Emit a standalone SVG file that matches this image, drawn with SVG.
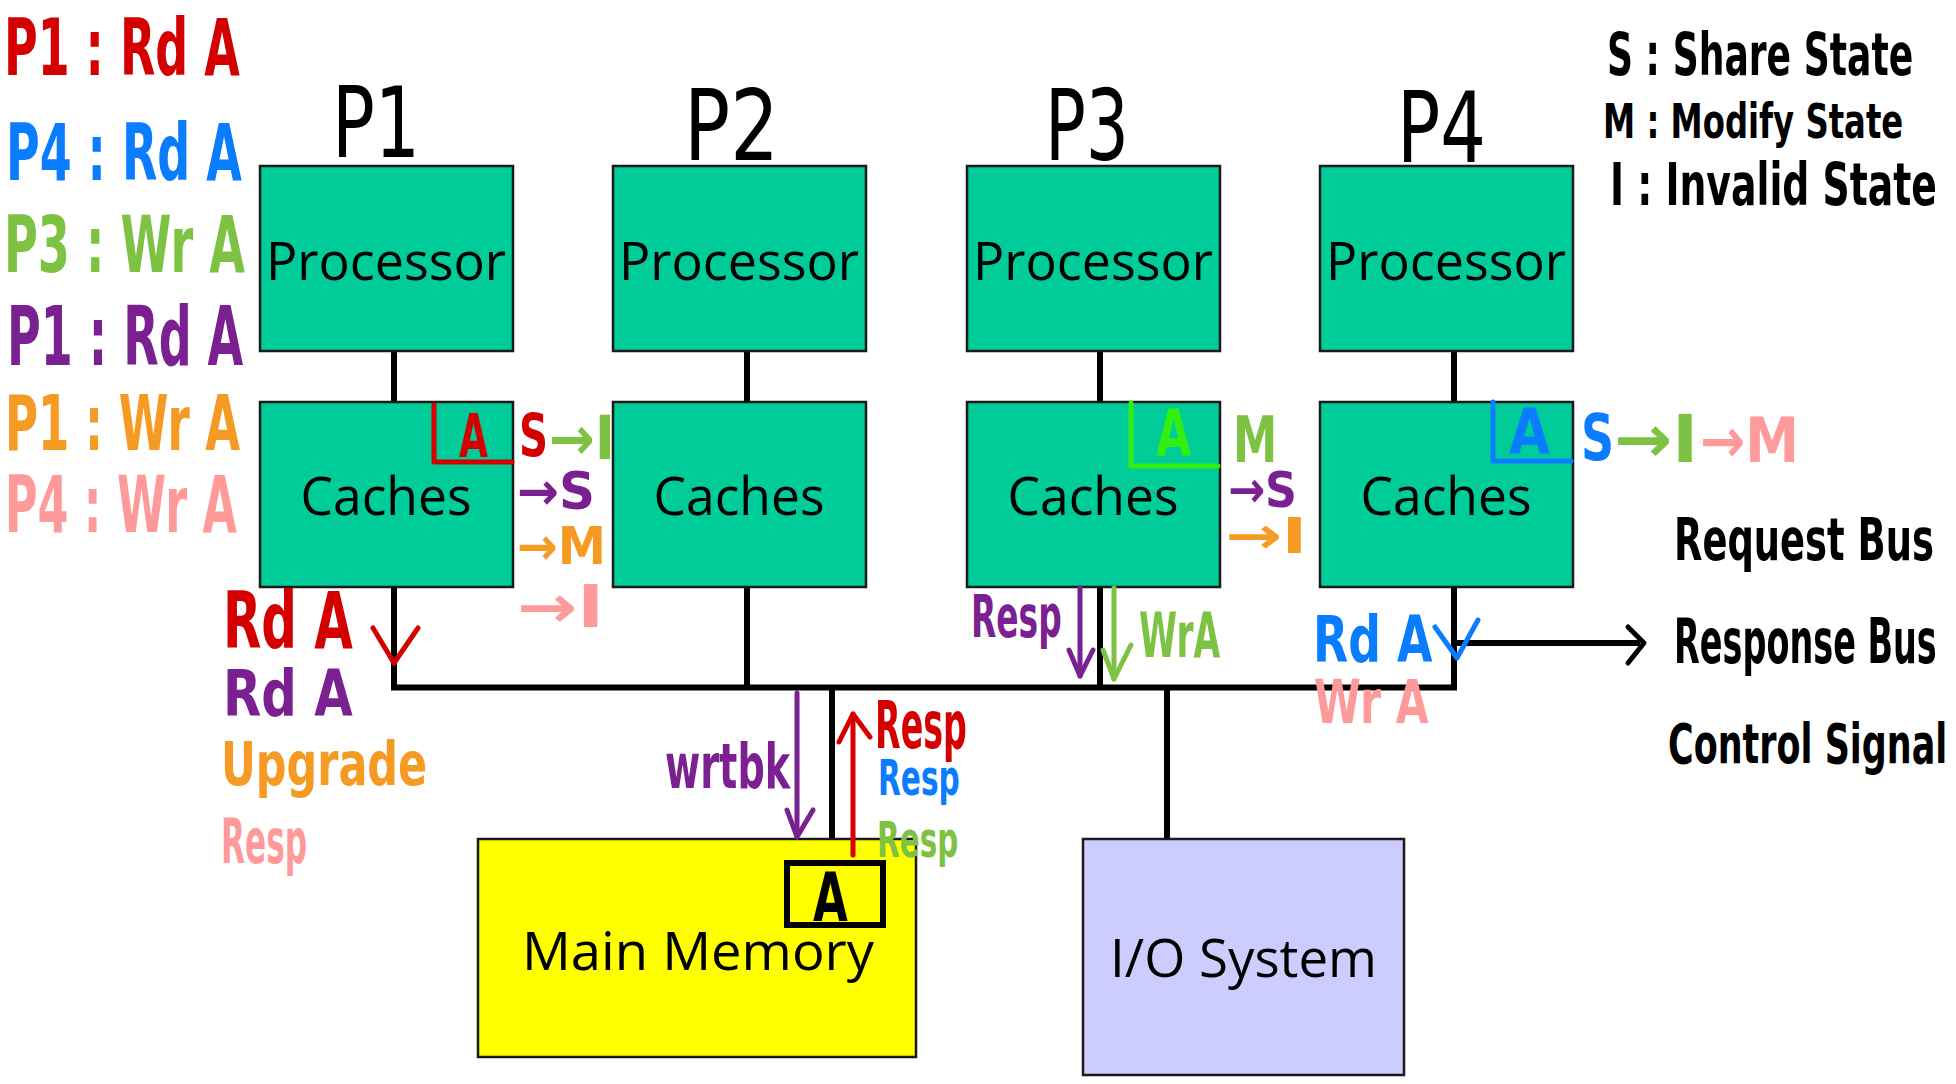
<svg xmlns="http://www.w3.org/2000/svg" width="1956" height="1084" viewBox="0 0 1956 1084">
<style>
.box{stroke:#1a1a1a;stroke-width:2.5}
.proc{fill:#00cc99}
.mem{fill:#ffff00}
.io{fill:#ccccff}
.lbl{font-family:"Open Sans","Liberation Sans",sans-serif;fill:#000;text-anchor:middle;font-size:53px}
.hw{font-family:"DejaVu Sans Condensed","DejaVu Sans",sans-serif;font-weight:bold}
.pl{font-family:"DejaVu Sans Condensed","DejaVu Sans",sans-serif;font-weight:normal;fill:#000}
.bus{stroke:#000;fill:none;stroke-width:6}
.pen{fill:none;stroke-width:5;stroke-linecap:round;stroke-linejoin:round}
.red{fill:#d40000}.blue{fill:#0a7cff}.green{fill:#7dc242}.purple{fill:#7b2090}.orange{fill:#f59a23}.pink{fill:#ff9a9a}.blk{fill:#000}.lime{fill:#33ee11}
.sred{stroke:#d40000}.sblue{stroke:#0a7cff}.sgreen{stroke:#7dc242}.spurple{stroke:#7b2090}.slime{stroke:#33ee11}.sblk{stroke:#000}
</style>

<!-- connectors -->
<g id="connectors">
  <line class="bus" x1="394" y1="350" x2="394" y2="402" stroke-width="5"/>
  <line class="bus" x1="747" y1="350" x2="747" y2="402" stroke-width="5"/>
  <line class="bus" x1="1100" y1="350" x2="1100" y2="402" stroke-width="5"/>
  <line class="bus" x1="1454" y1="350" x2="1454" y2="402" stroke-width="5"/>
  <line class="bus" x1="394" y1="586" x2="394" y2="690"/>
  <line class="bus" x1="747" y1="586" x2="747" y2="690"/>
  <line class="bus" x1="1100" y1="586" x2="1100" y2="690"/>
  <line class="bus" x1="1454" y1="586" x2="1454" y2="690"/>
  <line class="bus" x1="391" y1="687.5" x2="1457" y2="687.5" stroke-width="8"/>
  <line class="bus" x1="832" y1="687" x2="832" y2="840"/>
  <line class="bus" x1="1167" y1="687" x2="1167" y2="840"/>
  <line class="bus" x1="1457" y1="643" x2="1640" y2="643" stroke-width="4.5"/>
  <polyline class="pen sblk" points="1628,627 1644,643 1628,663"/>
</g>

<!-- processors -->
<g id="proc1"><rect class="box proc" x="260" y="166" width="253" height="185"/><text class="lbl" x="386" y="280" textLength="240" lengthAdjust="spacingAndGlyphs">Processor</text></g>
<g id="proc2"><rect class="box proc" x="613" y="166" width="253" height="185"/><text class="lbl" x="739" y="280" textLength="240" lengthAdjust="spacingAndGlyphs">Processor</text></g>
<g id="proc3"><rect class="box proc" x="967" y="166" width="253" height="185"/><text class="lbl" x="1093" y="280" textLength="240" lengthAdjust="spacingAndGlyphs">Processor</text></g>
<g id="proc4"><rect class="box proc" x="1320" y="166" width="253" height="185"/><text class="lbl" x="1446" y="280" textLength="240" lengthAdjust="spacingAndGlyphs">Processor</text></g>

<!-- caches -->
<g id="cache1"><rect class="box proc" x="260" y="402" width="253" height="185"/><text class="lbl" x="386" y="515" textLength="171" lengthAdjust="spacingAndGlyphs">Caches</text></g>
<g id="cache2"><rect class="box proc" x="613" y="402" width="253" height="185"/><text class="lbl" x="739" y="515" textLength="171" lengthAdjust="spacingAndGlyphs">Caches</text></g>
<g id="cache3"><rect class="box proc" x="967" y="402" width="253" height="185"/><text class="lbl" x="1093" y="515" textLength="171" lengthAdjust="spacingAndGlyphs">Caches</text></g>
<g id="cache4"><rect class="box proc" x="1320" y="402" width="253" height="185"/><text class="lbl" x="1446" y="515" textLength="171" lengthAdjust="spacingAndGlyphs">Caches</text></g>

<!-- memory -->
<g id="memory">
  <rect class="box mem" x="478" y="839" width="438" height="218"/>
  <text class="lbl" x="698" y="970" textLength="352" lengthAdjust="spacingAndGlyphs">Main Memory</text>
  <rect x="787" y="863" width="96" height="62" fill="none" stroke="#000" stroke-width="6"/>
  <text class="hw blk" transform="translate(813,921) scale(0.71,1)" font-size="68" textLength="49" lengthAdjust="spacingAndGlyphs">A</text>
</g>

<!-- io -->
<g id="io">
  <rect class="box io" x="1083" y="839" width="321" height="236"/>
  <text class="lbl" x="1243.5" y="977" font-size="56" textLength="267" lengthAdjust="spacingAndGlyphs">I/O System</text>
</g>

<!-- processor labels -->
<g id="plabels">
  <text class="pl" transform="translate(332,157) scale(0.8,1)" font-size="98" textLength="110" lengthAdjust="spacingAndGlyphs">P1</text>
  <text class="pl" transform="translate(684,160) scale(0.87,1)" font-size="98" textLength="109" lengthAdjust="spacingAndGlyphs">P2</text>
  <text class="pl" transform="translate(1045,160) scale(0.77,1)" font-size="98" textLength="109" lengthAdjust="spacingAndGlyphs">P3</text>
  <text class="pl" transform="translate(1397,162) scale(0.82,1)" font-size="98" textLength="108.5" lengthAdjust="spacingAndGlyphs">P4</text>
</g>

<!-- left legend -->
<g id="sequence">
  <text class="hw red" transform="translate(4,75) scale(0.655,1)" font-size="78" textLength="360" lengthAdjust="spacingAndGlyphs">P1 : Rd A</text>
  <text class="hw blue" transform="translate(6,180) scale(0.655,1)" font-size="78" textLength="360" lengthAdjust="spacingAndGlyphs">P4 : Rd A</text>
  <text class="hw green" transform="translate(4,272) scale(0.655,1)" font-size="78" textLength="368" lengthAdjust="spacingAndGlyphs">P3 : Wr A</text>
  <text class="hw purple" transform="translate(7,365) scale(0.62,1)" font-size="82" textLength="381" lengthAdjust="spacingAndGlyphs">P1 : Rd A</text>
  <text class="hw orange" transform="translate(5,450) scale(0.655,1)" font-size="76" textLength="359" lengthAdjust="spacingAndGlyphs">P1 : Wr A</text>
  <text class="hw pink" transform="translate(5,532) scale(0.63,1)" font-size="78" textLength="368" lengthAdjust="spacingAndGlyphs">P4 : Wr A</text>
</g>

<!-- state legend -->
<g id="states">
  <text class="hw blk" transform="translate(1607,75) scale(0.67,1)" font-size="58" textLength="457" lengthAdjust="spacingAndGlyphs">S : Share State</text>
  <text class="hw blk" transform="translate(1603,138) scale(0.72,1)" font-size="48" textLength="417" lengthAdjust="spacingAndGlyphs">M : Modify State</text>
  <text class="hw blk" transform="translate(1610,205) scale(0.7,1)" font-size="58" textLength="467" lengthAdjust="spacingAndGlyphs">I : Invalid State</text>
</g>

<!-- bus legend -->
<g id="buslegend">
  <text class="hw blk" transform="translate(1674,560) scale(0.71,1)" font-size="58" textLength="366" lengthAdjust="spacingAndGlyphs">Request Bus</text>
  <text class="hw blk" transform="translate(1674,663) scale(0.57,1)" font-size="62" textLength="461" lengthAdjust="spacingAndGlyphs">Response Bus</text>
  <text class="hw blk" transform="translate(1668,763) scale(0.7,1)" font-size="55" textLength="399" lengthAdjust="spacingAndGlyphs">Control Signal</text>
</g>

<!-- cache 1 annotations -->
<g id="ann1">
  <path class="pen sred" d="M434 405 V462 H512"/>
  <text class="hw red" transform="translate(459,457) scale(0.69,1)" font-size="60" textLength="42" lengthAdjust="spacingAndGlyphs">A</text>
  <text class="hw red" transform="translate(519,456) scale(0.77,1)" font-size="58" textLength="37.7" lengthAdjust="spacingAndGlyphs">S</text>
  <text class="hw green" x="549" y="459" font-size="60" textLength="66" lengthAdjust="spacingAndGlyphs">→I</text>
  <text class="hw purple" x="517" y="509" font-size="52" textLength="78" lengthAdjust="spacingAndGlyphs">→S</text>
  <text class="hw orange" x="517" y="564" font-size="52" textLength="89" lengthAdjust="spacingAndGlyphs">→M</text>
  <text class="hw pink" x="517" y="627" font-size="58" textLength="87" lengthAdjust="spacingAndGlyphs">→I</text>
  <text class="hw red" transform="translate(223,648) scale(0.71,1)" font-size="78" textLength="183" lengthAdjust="spacingAndGlyphs">Rd A</text>
  <polyline class="pen sred" points="373,628 394,663 418,628"/>
  <text class="hw purple" transform="translate(223,716) scale(0.87,1)" font-size="64" textLength="149" lengthAdjust="spacingAndGlyphs">Rd A</text>
  <text class="hw orange" transform="translate(221,785) scale(0.79,1)" font-size="60" textLength="261" lengthAdjust="spacingAndGlyphs">Upgrade</text>
  <text class="hw pink" transform="translate(221,863) scale(0.56,1)" font-size="62" textLength="154" lengthAdjust="spacingAndGlyphs">Resp</text>
</g>

<!-- memory annotations -->
<g id="annmem">
  <text class="hw purple" transform="translate(665,788) scale(0.68,1)" font-size="62" textLength="184" lengthAdjust="spacingAndGlyphs">wrtbk</text>
  <line class="pen spurple" x1="797" y1="693" x2="797" y2="837"/>
  <polyline class="pen spurple" points="787,810 797,837 813,810"/>
  <line class="pen sred" x1="853" y1="855" x2="853" y2="714"/>
  <polyline class="pen sred" points="839,742 853,714 870,737"/>
  <text class="hw red" transform="translate(875,748) scale(0.56,1)" font-size="66" textLength="164" lengthAdjust="spacingAndGlyphs">Resp</text>
  <text class="hw blue" transform="translate(878,795) scale(0.66,1)" font-size="50" textLength="124" lengthAdjust="spacingAndGlyphs">Resp</text>
  <text class="hw green" transform="translate(877,857) scale(0.65,1)" font-size="50" textLength="125" lengthAdjust="spacingAndGlyphs">Resp</text>
</g>

<!-- cache 3 annotations -->
<g id="ann3">
  <path class="pen slime" d="M1131 403 V466 H1218"/>
  <text class="hw lime" transform="translate(1156,456) scale(0.78,1)" font-size="64" textLength="45" lengthAdjust="spacingAndGlyphs">A</text>
  <text class="hw green" transform="translate(1233,462) scale(0.75,1)" font-size="64" textLength="59" lengthAdjust="spacingAndGlyphs">M</text>
  <text class="hw purple" x="1228" y="507" font-size="50" textLength="69" lengthAdjust="spacingAndGlyphs">→S</text>
  <text class="hw orange" x="1225" y="553" font-size="50" textLength="82" lengthAdjust="spacingAndGlyphs">→I</text>
  <text class="hw purple" transform="translate(971,637) scale(0.63,1)" font-size="58" textLength="144" lengthAdjust="spacingAndGlyphs">Resp</text>
  <line class="pen spurple" x1="1080" y1="588" x2="1080" y2="676"/>
  <polyline class="pen spurple" points="1069,650 1080,676 1093,650"/>
  <line class="pen sgreen" x1="1114" y1="588" x2="1114" y2="679"/>
  <polyline class="pen sgreen" points="1103,650 1114,679 1131,645"/>
  <text class="hw green" transform="translate(1139,657) scale(0.61,1)" font-size="62" textLength="133" lengthAdjust="spacingAndGlyphs">WrA</text>
</g>

<!-- cache 4 annotations -->
<g id="ann4">
  <path class="pen sblue" d="M1493 402 V461 H1571"/>
  <text class="hw blue" x="1509" y="453" font-size="62" textLength="41" lengthAdjust="spacingAndGlyphs">A</text>
  <text class="hw blue" transform="translate(1581,460) scale(0.77,1)" font-size="64" textLength="43" lengthAdjust="spacingAndGlyphs">S</text>
  <text class="hw green" x="1614" y="462" font-size="66" textLength="84" lengthAdjust="spacingAndGlyphs">→I</text>
  <text class="hw pink" x="1700" y="462" font-size="62" textLength="99" lengthAdjust="spacingAndGlyphs">→M</text>
  <text class="hw blue" transform="translate(1313,662) scale(0.79,1)" font-size="64" textLength="151" lengthAdjust="spacingAndGlyphs">Rd A</text>
  <polyline class="pen sblue" points="1435,627 1457,658 1478,620"/>
  <text class="hw pink" transform="translate(1314,723) scale(0.78,1)" font-size="60" textLength="147" lengthAdjust="spacingAndGlyphs">Wr A</text>
</g>
</svg>
